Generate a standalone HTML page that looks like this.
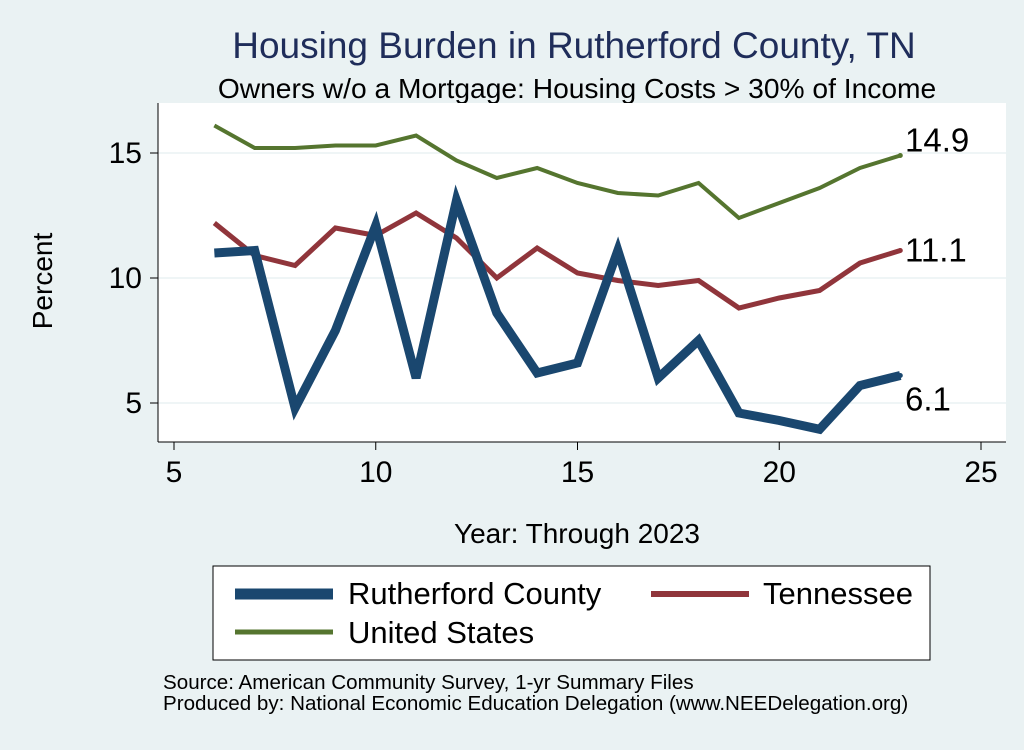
<!DOCTYPE html>
<html><head><meta charset="utf-8"><style>
body{margin:0;background:#eaf2f3;font-family:"Liberation Sans",sans-serif;}
</style></head><body>
<svg width="1024" height="745" xmlns="http://www.w3.org/2000/svg" font-family="Liberation Sans, sans-serif">
<rect x="0" y="0" width="1024" height="745" fill="#eaf2f3"/>
<text x="574" y="58" text-anchor="middle" font-size="37" fill="#1f2d5a">Housing Burden in Rutherford County, TN</text>
<text x="577" y="98" text-anchor="middle" font-size="28.2" fill="#000">Owners w/o a Mortgage: Housing Costs &gt; 30% of Income</text>
<rect x="158" y="103" width="848" height="339" fill="#fff"/>
<g id="grid"></g>
<g id="axes" stroke="#000" stroke-width="1"></g>
<g id="series"></g>
<text x="577" y="543" text-anchor="middle" font-size="28">Year: Through 2023</text>
<text transform="translate(52,281) rotate(-90)" text-anchor="middle" font-size="28">Percent</text>
<g>
<rect x="213" y="566" width="717" height="94" fill="#fff" stroke="#000" stroke-width="1"/>
<line x1="235" y1="594" x2="333" y2="594" stroke="#1a476f" stroke-width="11"/>
<text x="348" y="604" font-size="31">Rutherford County</text>
<line x1="651" y1="594" x2="749" y2="594" stroke="#90353b" stroke-width="6"/>
<text x="763" y="604" font-size="31">Tennessee</text>
<line x1="235" y1="632" x2="333" y2="632" stroke="#55752f" stroke-width="5"/>
<text x="348" y="643" font-size="31">United States</text>
</g>
<text x="163" y="689" font-size="20.6">Source: American Community Survey, 1-yr Summary Files</text>
<text x="163" y="710" font-size="20.6">Produced by: National Economic Education Delegation (www.NEEDelegation.org)</text>
</svg>
<script>
const years=[6,7,8,9,10,11,12,13,14,15,16,17,18,19,20,21,22,23];
const rutherford=[11.0,11.1,4.8,7.9,12.1,6.0,13.1,8.6,6.2,6.6,11.1,6.0,7.5,4.6,4.3,3.95,5.7,6.1];
const tennessee=[12.2,10.9,10.5,12.0,11.7,12.6,11.6,10.0,11.2,10.2,9.9,9.7,9.9,8.8,9.2,9.5,10.6,11.1];
const unitedStates=[16.1,15.2,15.2,15.3,15.3,15.7,14.7,14.0,14.4,13.8,13.4,13.3,13.8,12.4,13.0,13.6,14.4,14.9];
const xTicks=[5,10,15,20,25];
const yTicks=[5,10,15];
const NS="http://www.w3.org/2000/svg";
function xs(v){return 174+(v-5)*(981-174)/20;}
function ys(v){return 403-(v-5)*25;}
const grid=document.getElementById('grid'),axes=document.getElementById('axes'),ser=document.getElementById('series'),svg=document.querySelector('svg');
function mk(t,a,p){const e=document.createElementNS(NS,t);for(const k in a)e.setAttribute(k,a[k]);(p||svg).appendChild(e);return e;}
yTicks.forEach(v=>{
const g=mk('line',{x1:158,x2:1006,y1:ys(v),y2:ys(v),stroke:'#eaf2f3','stroke-width':1.5},grid);


const t=mk('line',{x1:150,x2:158,y1:ys(v),y2:ys(v)},axes);


const l=mk('text',{x:142,y:ys(v)+10,'text-anchor':'end','font-size':30});
l.textContent=v;


});
xTicks.forEach(v=>{
const t=mk('line',{x1:xs(v),x2:xs(v),y1:442,y2:450},axes);


const l=mk('text',{x:xs(v),y:482,'text-anchor':'middle','font-size':30});
l.textContent=v;


});
const ya=mk('line',{x1:158,x2:158,y1:103,y2:442},axes);


const xa=mk('line',{x1:158,x2:1006,y1:442,y2:442},axes);


function line(vals,color,w,name,lblDy){
const p=mk('polyline',{points:vals.map((v,i)=>xs(years[i])+','+ys(v)).join(' '),fill:'none',stroke:color,'stroke-width':w,'stroke-linejoin':'miter'},ser);


const last=vals[vals.length-1];
const d=mk('circle',{cx:xs(years[years.length-1]),cy:ys(last),r:2.5,fill:color},ser);


const t=mk('text',{x:905,y:ys(last)+lblDy,'font-size':33});
t.textContent=last.toFixed(1);


}
line(unitedStates,'#55752f',4,'us',-4);
line(tennessee,'#90353b',5,'tennessee',11);
line(rutherford,'#1a476f',9,'rutherford',35);
</script>
</body></html>
